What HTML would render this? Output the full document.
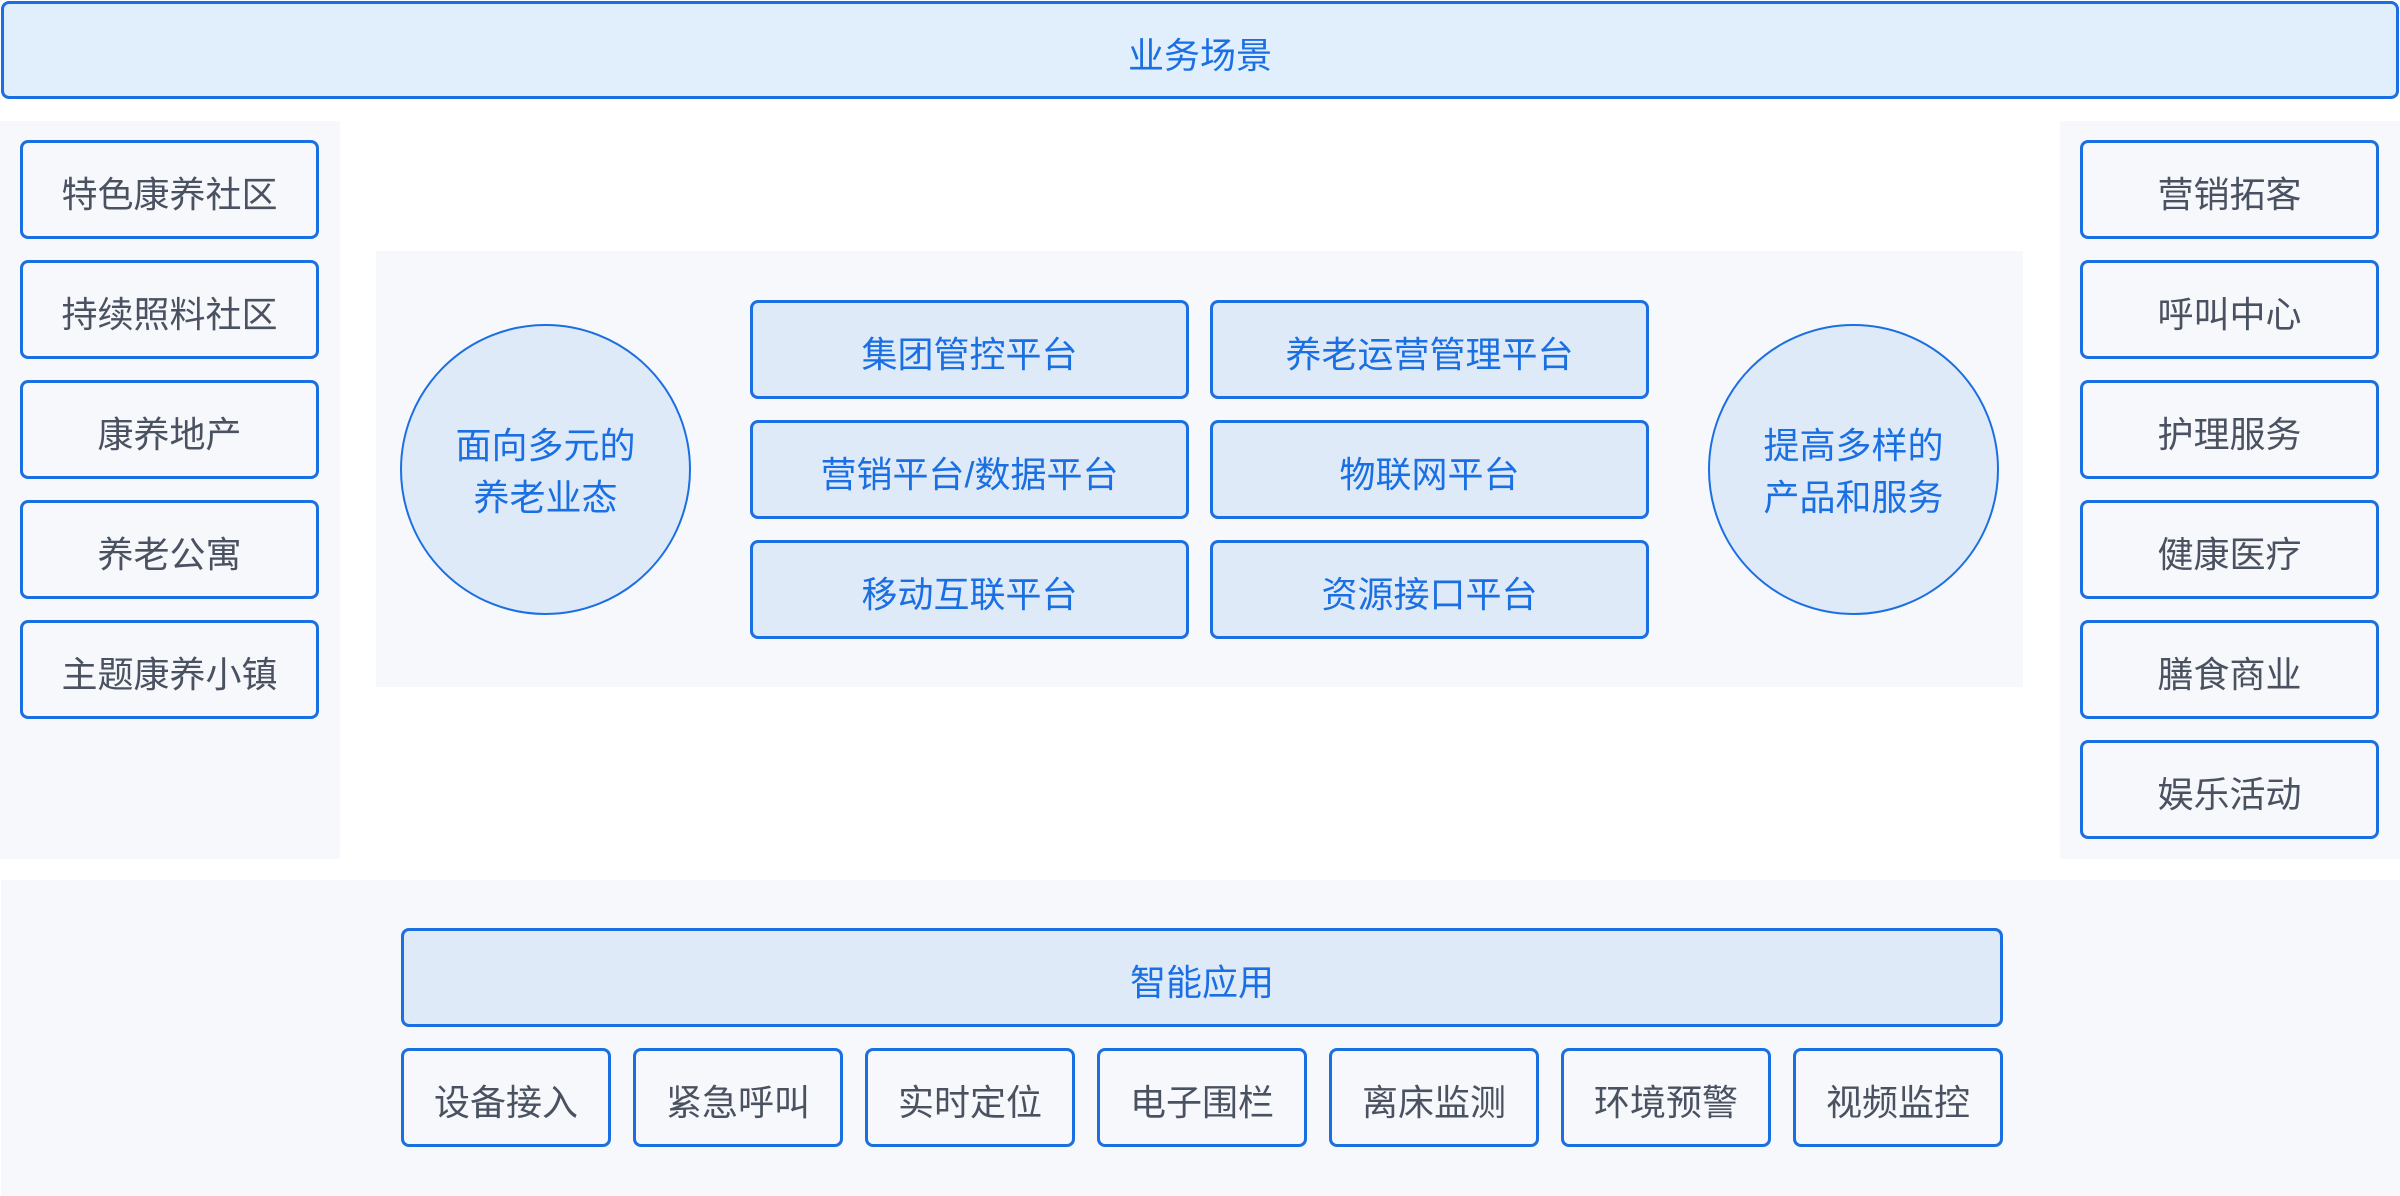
<!DOCTYPE html>
<html><head><meta charset="utf-8"><style>
*{margin:0;padding:0;box-sizing:border-box}
body{width:2400px;height:1196px;background:#fff;position:relative;overflow:hidden;font-family:"Liberation Sans","Noto Sans CJK SC",sans-serif}
.a{position:absolute}
.bx{position:absolute;border:3px solid #1a6fe3;border-radius:8px;display:flex;align-items:center;justify-content:center;font-size:36px;padding-top:5px}
.g{background:#f6f8fb;color:#4a5262}
.b{background:#deeaf8;color:#1a6fe3}
.c{position:absolute;border:2px solid #1a6fe3;border-radius:50%;background:#deeaf8;color:#1a6fe3;display:flex;align-items:center;justify-content:center;text-align:center;font-size:36px;line-height:52px;padding-top:5px}
.bg{position:absolute;background:#f6f8fb}
</style></head><body>
<div class="bx" style="left:1px;top:1px;width:2398px;height:98px;background:#e1eefb;color:#1a6fe3">业务场景</div>
<div class="bg" style="left:0;top:121px;width:340px;height:738px"></div>
<div class="bg" style="left:2060px;top:121px;width:340px;height:738px"></div>
<div class="bg" style="left:376px;top:251px;width:1647px;height:436px"></div>
<div class="bg" style="left:1px;top:880px;width:2399px;height:316px"></div>
<div class="bx g" style="left:20px;top:140px;width:299px;height:99px">特色康养社区</div>
<div class="bx g" style="left:20px;top:260px;width:299px;height:99px">持续照料社区</div>
<div class="bx g" style="left:20px;top:380px;width:299px;height:99px">康养地产</div>
<div class="bx g" style="left:20px;top:500px;width:299px;height:99px">养老公寓</div>
<div class="bx g" style="left:20px;top:620px;width:299px;height:99px">主题康养小镇</div>
<div class="bx g" style="left:2080px;top:140px;width:299px;height:99px">营销拓客</div>
<div class="bx g" style="left:2080px;top:260px;width:299px;height:99px">呼叫中心</div>
<div class="bx g" style="left:2080px;top:380px;width:299px;height:99px">护理服务</div>
<div class="bx g" style="left:2080px;top:500px;width:299px;height:99px">健康医疗</div>
<div class="bx g" style="left:2080px;top:620px;width:299px;height:99px">膳食商业</div>
<div class="bx g" style="left:2080px;top:740px;width:299px;height:99px">娱乐活动</div>
<div class="c" style="left:400px;top:324px;width:291px;height:291px">面向多元的<br>养老业态</div>
<div class="c" style="left:1708px;top:324px;width:291px;height:291px">提高多样的<br>产品和服务</div>
<div class="bx b" style="left:750px;top:300px;width:439px;height:99px">集团管控平台</div>
<div class="bx b" style="left:1210px;top:300px;width:439px;height:99px">养老运营管理平台</div>
<div class="bx b" style="left:750px;top:420px;width:439px;height:99px">营销平台/数据平台</div>
<div class="bx b" style="left:1210px;top:420px;width:439px;height:99px">物联网平台</div>
<div class="bx b" style="left:750px;top:540px;width:439px;height:99px">移动互联平台</div>
<div class="bx b" style="left:1210px;top:540px;width:439px;height:99px">资源接口平台</div>
<div class="bx b" style="left:401px;top:928px;width:1602px;height:99px">智能应用</div>
<div class="bx g" style="left:401px;top:1048px;width:210px;height:99px">设备接入</div>
<div class="bx g" style="left:633px;top:1048px;width:210px;height:99px">紧急呼叫</div>
<div class="bx g" style="left:865px;top:1048px;width:210px;height:99px">实时定位</div>
<div class="bx g" style="left:1097px;top:1048px;width:210px;height:99px">电子围栏</div>
<div class="bx g" style="left:1329px;top:1048px;width:210px;height:99px">离床监测</div>
<div class="bx g" style="left:1561px;top:1048px;width:210px;height:99px">环境预警</div>
<div class="bx g" style="left:1793px;top:1048px;width:210px;height:99px">视频监控</div>
</body></html>
